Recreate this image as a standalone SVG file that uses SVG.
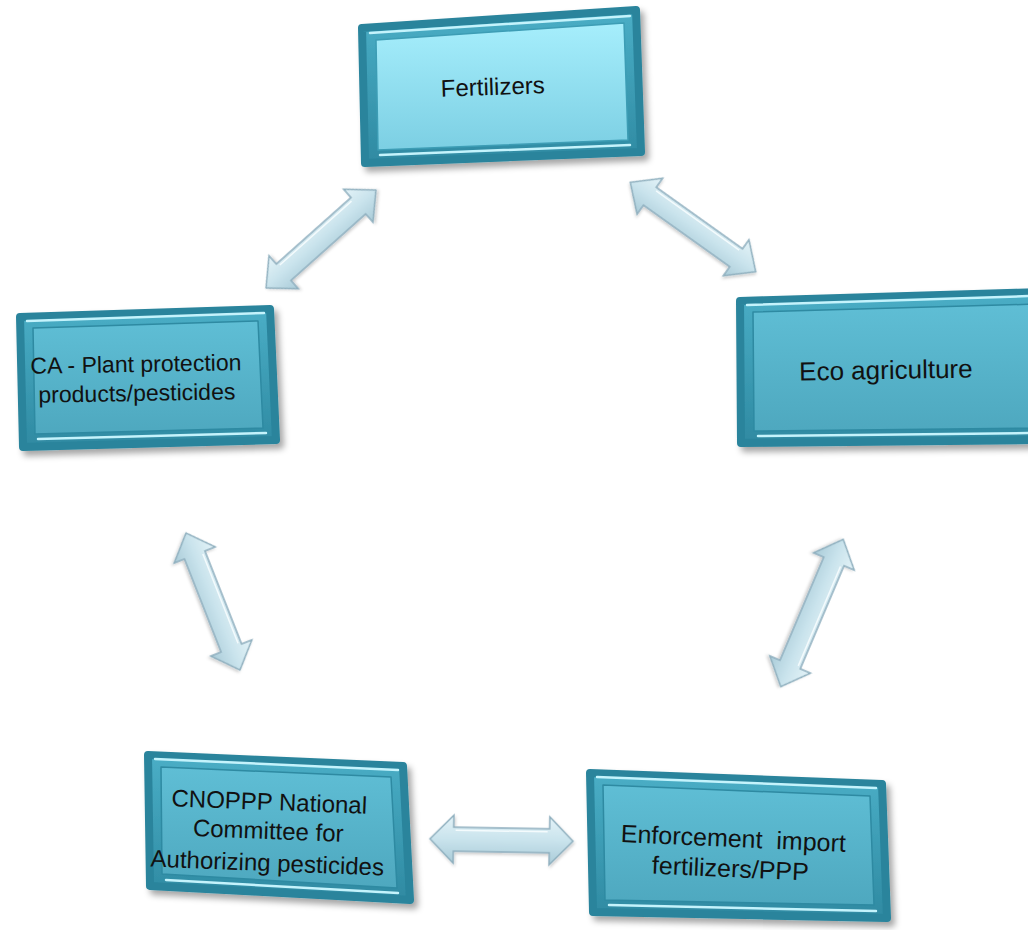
<svg xmlns="http://www.w3.org/2000/svg" width="1028" height="930" viewBox="0 0 1028 930">
<defs>
<linearGradient id="faceLight" x1="0" y1="0" x2="0" y2="1">
<stop offset="0" stop-color="#a6eefc"/><stop offset="1" stop-color="#7ccfe3"/>
</linearGradient>
<linearGradient id="face" x1="0" y1="0" x2="0" y2="1">
<stop offset="0" stop-color="#5fbed5"/><stop offset="1" stop-color="#4ea8bf"/>
</linearGradient>
<linearGradient id="frame" x1="0" y1="0" x2="0" y2="1">
<stop offset="0" stop-color="#4aaec6"/><stop offset="1" stop-color="#2f8aa2"/>
</linearGradient>
<linearGradient id="arrowFill" x1="0" y1="0" x2="0" y2="1">
<stop offset="0" stop-color="#e4f3f8"/><stop offset="0.5" stop-color="#c9e3ec"/><stop offset="1" stop-color="#a9cbd8"/>
</linearGradient>
<filter id="shadow" x="-10%" y="-10%" width="130%" height="130%">
<feDropShadow dx="4" dy="5" stdDeviation="3" flood-color="#000" flood-opacity="0.35"/>
</filter>
<filter id="ashadow" x="-10%" y="-30%" width="130%" height="160%">
<feDropShadow dx="1" dy="2" stdDeviation="1.5" flood-color="#000" flood-opacity="0.2"/>
</filter>
</defs>
<style>
.outer{fill:url(#frame);stroke:#2a849c;stroke-width:8;stroke-linejoin:round;filter:url(#shadow)}
.face{fill:url(#face);stroke:#2e8aa2;stroke-width:1.5;stroke-linejoin:round}
.faceL{fill:url(#faceLight);stroke:#3d9db5;stroke-width:1.5;stroke-linejoin:round}
.hl{fill:none;stroke:#c4f3fc;stroke-width:2.5;stroke-linecap:round}
.lbl{font-family:"Liberation Sans",Arial,sans-serif;font-size:23px;fill:#111;text-anchor:middle;white-space:pre}
.arr{fill:url(#arrowFill);stroke:#8eafbe;stroke-width:1.5;stroke-linejoin:miter;filter:url(#ashadow)}
.arrhl{fill:none;stroke:#f4fbfd;stroke-width:1.5}
</style>
<rect width="1028" height="930" fill="#ffffff"/>

<g id="connectors">
<g transform="translate(321,239) rotate(-41.7)">
<path class="arr" d="M-73.6 0 L-50 -22 L-50 -11 L50 -11 L50 -22 L73.6 0 L50 22 L50 11 L-50 11 L-50 22 Z"/>
<path class="arrhl" d="M-48 -8 L48 -8"/>
</g>
<g transform="translate(693,227) rotate(35.5)">
<path class="arr" d="M-77 0 L-53 -22 L-53 -11 L53 -11 L53 -22 L77 0 L53 22 L53 11 L-53 11 L-53 22 Z"/>
<path class="arrhl" d="M-51 -8 L51 -8"/>
</g>
<g transform="translate(213,601.5) rotate(68.5)">
<path class="arr" d="M-73.6 0 L-50 -22 L-50 -11 L50 -11 L50 -22 L73.6 0 L50 22 L50 11 L-50 11 L-50 22 Z"/>
<path class="arrhl" d="M-48 -8 L48 -8"/>
</g>
<g transform="translate(812,613) rotate(113)">
<path class="arr" d="M-80 0 L-56 -22 L-56 -11 L56 -11 L56 -22 L80 0 L56 22 L56 11 L-56 11 L-56 22 Z"/>
<path class="arrhl" d="M-54 -8 L54 -8"/>
</g>
<g transform="translate(501.5,840) rotate(1)">
<path class="arr" d="M-71.5 0 L-48 -24 L-48 -12 L48 -12 L48 -24 L71.5 0 L48 24 L48 12 L-48 12 L-48 24 Z"/>
<path class="arrhl" d="M-46 -9 L46 -9"/>
</g>
</g>

<g id="node-fertilizers">
<polygon class="outer" points="362,28 636,10 641,152 365,163"/>
<polygon class="faceL" points="376,40 624,23 628,140 378,150"/>
<path class="hl" d="M370,33 L630,16"/>
<path class="hl" d="M380,155 L630,145"/>
<text class="lbl" style="font-size:24px" transform="translate(493,95) rotate(-2)">Fertilizers</text>
</g>

<g id="node-ca">
<polygon class="outer" points="20,317 270,309 276,440 23,447"/>
<polygon class="face" points="33,328 258,321 263,428 35,434"/>
<path class="hl" d="M27,321 L264,313"/>
<path class="hl" d="M38,439 L266,433"/>
<text class="lbl" transform="translate(136,372) rotate(-1)">CA - Plant protection</text>
<text class="lbl" transform="translate(137,401) rotate(-1)">products/pesticides</text>
</g>

<g id="node-eco">
<polygon class="outer" points="740,301 1040,292 1040,440 741,443"/>
<polygon class="face" points="753,312 1040,304 1040,428 754,431"/>
<path class="hl" d="M747,305 L1030,296"/>
<path class="hl" d="M758,436 L1030,433"/>
<text class="lbl" style="font-size:26px" transform="translate(886,379) rotate(-1)">Eco agriculture</text>
</g>

<g id="node-cnoppp">
<polygon class="outer" points="148,755 403,766 410,900 150,886"/>
<polygon class="face" points="161,767 391,777 397,888 162,874"/>
<path class="hl" d="M155,759 L398,770"/>
<path class="hl" d="M166,880 L398,893"/>
<text class="lbl" style="font-size:24px" transform="translate(269,810) rotate(2.2)">CNOPPP National</text>
<text class="lbl" style="font-size:24px" transform="translate(268,839) rotate(2.2)">Committee for</text>
<text class="lbl" style="font-size:24px" transform="translate(267,871) rotate(2.2)">Authorizing pesticides</text>
</g>

<g id="node-enforcement">
<polygon class="outer" points="590,773 882,784 887,918 593,912"/>
<polygon class="face" points="603,785 870,796 874,905 605,900"/>
<path class="hl" d="M597,777 L876,788"/>
<path class="hl" d="M609,905 L876,911"/>
<text class="lbl" style="font-size:25px" transform="translate(733,847) rotate(2.5)">Enforcement  import</text>
<text class="lbl" style="font-size:25px" transform="translate(730,877) rotate(2.5)">fertilizers/PPP</text>
</g>
</svg>
